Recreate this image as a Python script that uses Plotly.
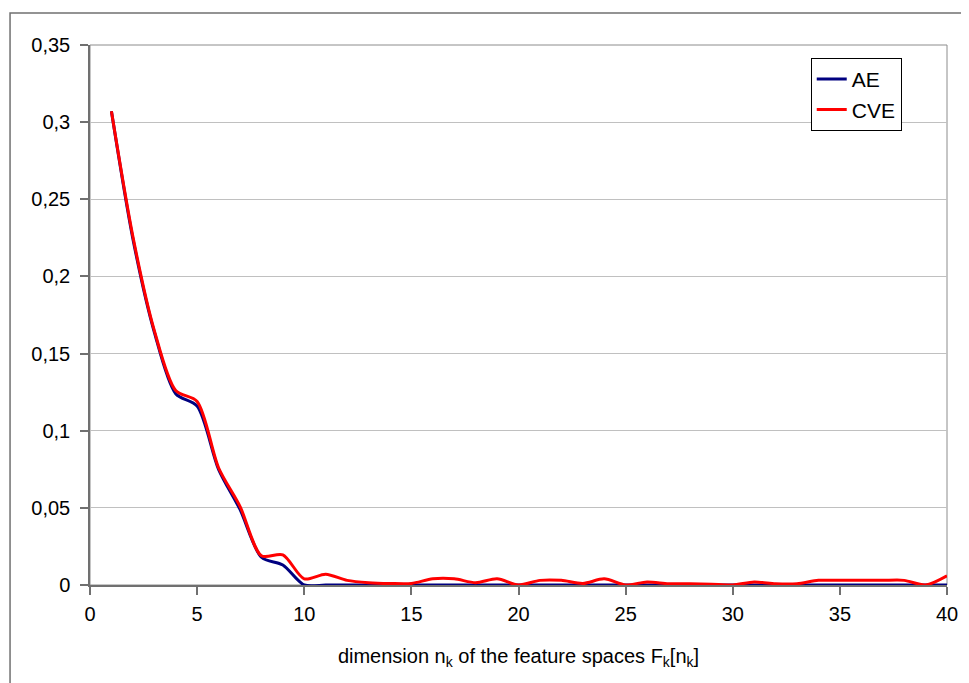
import plotly.graph_objects as go

# ---- data ----
dims = list(range(1, 41))
ae = [0.307, 0.2245, 0.164, 0.124, 0.116, 0.075, 0.049, 0.018, 0.013, 0.0,
      0.0, 0.0, 0.0, 0.0, 0.0, 0.0, 0.0, 0.0, 0.0, 0.0,
      0.0, 0.0, 0.0, 0.0, 0.0, 0.0, 0.0, 0.0, 0.0, 0.0,
      0.0, 0.0, 0.0, 0.0, 0.0, 0.0, 0.0, 0.0, 0.0, 0.0]
cve = [0.307, 0.226, 0.165, 0.126, 0.119, 0.076, 0.051, 0.019, 0.0195, 0.004,
       0.007, 0.003, 0.0015, 0.001, 0.001, 0.004, 0.004, 0.0015, 0.004, 0.0,
       0.003, 0.003, 0.001, 0.004, 0.0, 0.002, 0.0008, 0.0008, 0.0005, 0.0,
       0.002, 0.0008, 0.0008, 0.003, 0.003, 0.003, 0.003, 0.003, 0.0, 0.006]
x_ticks = [0, 5, 10, 15, 20, 25, 30, 35, 40]
y_ticks = [0, 0.05, 0.1, 0.15, 0.2, 0.25, 0.3, 0.35]
x_title = "dimension n<sub>k</sub> of the feature spaces F<sub>k</sub>[n<sub>k</sub>]"

FONT = "Liberation Sans, Arial, sans-serif"

fig = go.Figure()
fig.add_trace(go.Scatter(x=dims, y=ae, name="AE", mode="lines", legendgroup="a",
                         line=dict(color="#000080", width=3, shape="spline", smoothing=0.8)))
fig.add_trace(go.Scatter(x=dims, y=cve, name="CVE", mode="lines", legendgroup="b",
                         line=dict(color="#ff0000", width=3, shape="spline", smoothing=0.8)))

fig.update_layout(
    width=961, height=675,
    margin=dict(l=82, r=22, t=37, b=98),
    paper_bgcolor="white", plot_bgcolor="white",
    separators=", ",
    font=dict(family=FONT, size=20, color="#000000"),
    showlegend=True,
    legend=dict(x=0.841, y=0.976, xanchor="left", yanchor="top",
                bgcolor="white", bordercolor="#000000", borderwidth=1,
                font=dict(family=FONT, size=21, color="#000000"),
                tracegroupgap=0, itemwidth=30),
    xaxis=dict(range=[0, 40], tickvals=x_ticks, showgrid=False, zeroline=False,
               showline=True, linecolor="#707070", linewidth=1.5,
               ticks="outside", ticklen=8, tickcolor="#707070", tickwidth=1.5,
               ticklabelstandoff=2,
               tickfont=dict(family=FONT, size=20),
               title=dict(text=x_title, font=dict(family=FONT, size=20), standoff=25)),
    yaxis=dict(range=[0, 0.35], tickvals=y_ticks, showgrid=True, gridcolor="#c0c0c0",
               gridwidth=1, zeroline=False,
               showline=True, linecolor="#707070", linewidth=1.5,
               ticks="outside", ticklen=8, tickcolor="#707070", tickwidth=1.5,
               ticklabelstandoff=6,
               tickfont=dict(family=FONT, size=20)),
    shapes=[
        dict(type="rect", xref="paper", yref="paper", x0=0, x1=1, y0=0, y1=1,
             line=dict(color="#8c8c8c", width=1), layer="below"),
        dict(type="rect", xref="paper", yref="paper", x0=-0.0933, x1=1.1, y0=-0.3, y1=1.0593,
             line=dict(color="#707070", width=1.5), layer="below"),
    ],
)

fig.write_html("out.html")
